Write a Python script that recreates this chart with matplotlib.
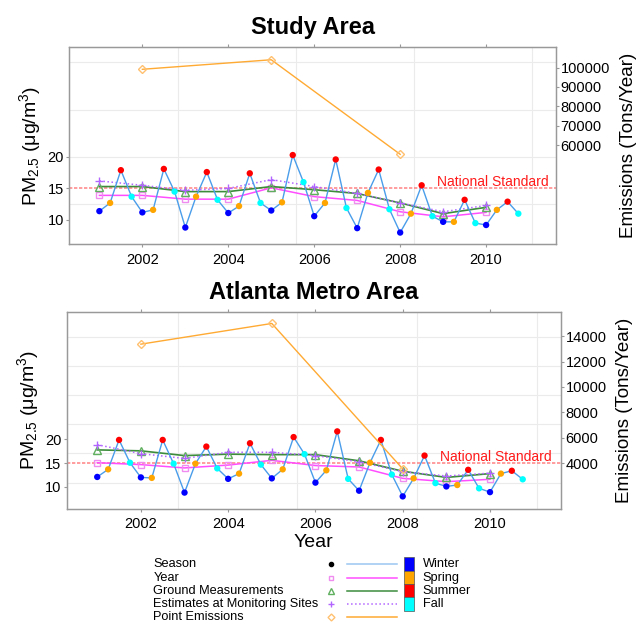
import numpy as np
import matplotlib.pyplot as plt
from matplotlib.patches import Rectangle

plt.rcParams['font.family'] = ['Liberation Sans', 'DejaVu Sans']
plt.rcParams['mathtext.fontset'] = 'custom'
plt.rcParams['mathtext.rm'] = 'Liberation Sans'
plt.rcParams['mathtext.it'] = 'Liberation Sans:italic'

# data
years = [2001, 2002, 2003, 2004, 2005, 2006, 2007, 2008, 2009, 2010]
seasons = ['Winter', 'Spring', 'Summer', 'Fall']
season_offset = [0.0, 0.25, 0.5, 0.75]
season_colors = ['#0000FF', '#FFA500', '#FF0000', '#00FFFF']

study_season = [11.4, 12.7, 17.9, 13.7, 11.2, 11.6, 18.1, 14.5, 8.8, 13.7,
                17.6, 13.2, 11.1, 12.2, 17.4, 12.7, 11.5, 12.8, 20.3, 16.0,
                10.6, 12.7, 19.6, 11.9, 8.7, 14.3, 18.0, 11.7, 8.0, 11.0,
                15.5, 10.6, 9.7, 9.7, 13.2, 9.5, 9.2, 11.6, 12.9, 11.0]
study_year = [13.9, 13.9, 13.3, 13.3, 15.1, 13.7, 13.1, 11.3, 10.5, 11.2]
study_ground = [15.3, 15.3, 14.5, 14.5, 15.3, 14.8, 14.2, 12.7, 11.0, 12.0]
study_est = [16.2, 15.5, 14.7, 15.0, 16.4, 15.3, 14.2, 12.7, 11.3, 12.3]

atl_season = [12.1, 13.7, 19.9, 15.1, 12.0, 11.9, 19.9, 14.9, 8.8, 14.9,
              18.5, 13.9, 11.7, 12.8, 19.2, 14.7, 11.8, 13.7, 20.5, 16.9,
              10.9, 13.5, 21.7, 11.7, 9.2, 15.1, 19.9, 12.6, 8.0, 11.8,
              16.6, 10.8, 10.1, 10.4, 13.6, 9.7, 8.9, 12.8, 13.4, 11.6]
atl_year = [15.1, 14.7, 14.0, 14.6, 15.6, 14.5, 14.2, 11.8, 11.1, 11.6]
atl_ground = [17.8, 17.6, 16.6, 16.9, 16.8, 16.8, 15.5, 13.3, 12.0, 12.8]
atl_est = [18.9, 17.0, 16.0, 17.3, 17.3, 16.6, 15.3, 13.2, 12.3, 12.9]

emis_years = [2002, 2005, 2008]
study_emis = [99100, 104000, 55400]
atl_emis = [13370, 15000, 3550]

standard = 15
xticks = [2002, 2004, 2006, 2008, 2010]
vgrid = [2002.84, 2005.57, 2008.33, 2011.07]

season_t = [y + o for y in years for o in season_offset]
season_c = [season_colors[i % 4] for i in range(len(season_t))]

GRID = '#EBEBEB'
SPINE = '#999999'


def panel(ax, title, s_vals, y_vals, g_vals, e_vals, emis, ylim, ylim2,
          ticks2, hgrid, lab_y):
    for x in vgrid:
        ax.axvline(x, color=GRID, lw=0.8, zorder=0)
    for y in hgrid:
        ax.axhline(y, color=GRID, lw=0.8, zorder=0)
    ax.axhline(standard, color='#FF7070', lw=1.2, ls=(0, (2, 1)), alpha=0.8, zorder=1)
    ax.text(2008.85, lab_y, 'National Standard', color='#FF1A1A', fontsize=10,
            va='center', ha='left', zorder=2)
    ax.plot(years, y_vals, color='#FF4DFF', lw=1.1, marker='s', mfc='none',
            mec='#F08CF0', ms=4.5, zorder=3)
    ax.plot(years, g_vals, color='#3C8C3C', lw=1.2, marker='^', mfc='none',
            mec='#5FAF5F', ms=5.5, zorder=3)
    ax.plot(years, e_vals, color='#B266FF', lw=1.1, ls=':', marker='+',
            mec='#B266FF', ms=6, zorder=3)
    ax.plot(season_t, s_vals, color='#4A9DEA', lw=1, zorder=4)
    ax.scatter(season_t, s_vals, c=season_c, s=21, edgecolors='none', zorder=5)

    ax.set_xlim(2000.30, 2011.62)
    ax.set_ylim(*ylim)
    ax.set_xticks(xticks)
    ax.set_yticks([10, 15, 20])
    ax.tick_params(axis='both', direction='out', length=2, width=0.8,
                   color=SPINE, labelsize=10.5, pad=2)
    ax.tick_params(axis='x', top=True, pad=4)
    for sp in ax.spines.values():
        sp.set_color(SPINE)
        sp.set_linewidth(0.9)
    ax.set_ylabel('PM$_{2.5}$ (μg/m$^3$)', fontsize=14, labelpad=3)
    ax.set_title(title, fontsize=17, fontweight='bold', pad=9)

    ax2 = ax.twinx()
    ax2.plot(emis_years, emis, color='#FFAA33', lw=1, marker='D', mfc='none',
             mec='#FFC070', ms=4.5, zorder=3)
    ax2.set_ylim(*ylim2)
    ax2.set_yticks(ticks2)
    ax2.tick_params(axis='y', direction='out', length=2, width=0.8,
                    color=SPINE, labelsize=10.5, pad=1.5)
    for sp in ax2.spines.values():
        sp.set_color(SPINE)
        sp.set_linewidth(0.9)
    ax2.set_ylabel('Emissions (Tons/Year)', fontsize=13.5, labelpad=7)
    return ax2


fig = plt.figure(figsize=(6.37, 6.23), dpi=100)
ax_top = fig.add_axes([0.1088, 0.6079, 0.7636, 0.3172])
ax_bot = fig.add_axes([0.1047, 0.1835, 0.7755, 0.3162])

panel(ax_top, 'Study Area', study_season, study_year, study_ground, study_est,
      study_emis, (6.14, 37.5), (9165, 110730),
      [60000, 70000, 80000, 90000, 100000], [12.5, 20, 27.5, 35], 16.1)
panel(ax_bot, 'Atlanta Metro Area', atl_season, atl_year, atl_ground, atl_est,
      atl_emis, (5.41, 46.93), (413, 15927),
      [4000, 6000, 8000, 10000, 12000, 14000],
      [10.9, 17.1, 23.2, 29.3, 35.4, 41.6], 16.3)
ax_bot.set_xlabel('Year', fontsize=14, labelpad=2)

# legend drawn in a pixel-coordinate overlay
lg = fig.add_axes([0, 0, 1, 1], zorder=10)
lg.set_xlim(0, 637)
lg.set_ylim(623, 0)
lg.axis('off')
lg.patch.set_visible(False)

leg_names = ['Season', 'Year', 'Ground Measurements',
             'Estimates at Monitoring Sites', 'Point Emissions']
leg_marker = ['o', 's', '^', '+', 'D']
leg_mcolor = ['black', '#F08CF0', '#5FAF5F', '#B266FF', '#FFC070']
leg_msize = [3, 3.5, 4.5, 5, 3.5]
leg_lcolor = ['#9CC6F2', '#FF4DFF', '#3C8C3C', '#B266FF', '#FFAA33']
leg_ls = ['-', '-', '-', ':', '-']
rows = [564.3, 577.6, 591.0, 604.3, 617.2]

for i, name in enumerate(leg_names):
    y = rows[i]
    lg.text(153.3, y, name, fontsize=9.2, va='center', ha='left')
    filled = leg_marker[i] == 'o'
    lg.plot([331], [y], marker=leg_marker[i], ms=leg_msize[i],
            mfc=leg_mcolor[i] if filled else 'none', mec=leg_mcolor[i], ls='none')
    lg.plot([346.7, 396.7], [y, y], color=leg_lcolor[i], lw=1.1, ls=leg_ls[i])

for i, name in enumerate(seasons):
    top = 557.3 + 13.35 * i
    lg.add_patch(Rectangle((404.3, top), 10, 13.35, facecolor=season_colors[i],
                           edgecolor='#555555', lw=0.5))
    lg.text(422.7, rows[i], name, fontsize=9.2, va='center', ha='left')

fig.savefig('out.png', dpi=100)
